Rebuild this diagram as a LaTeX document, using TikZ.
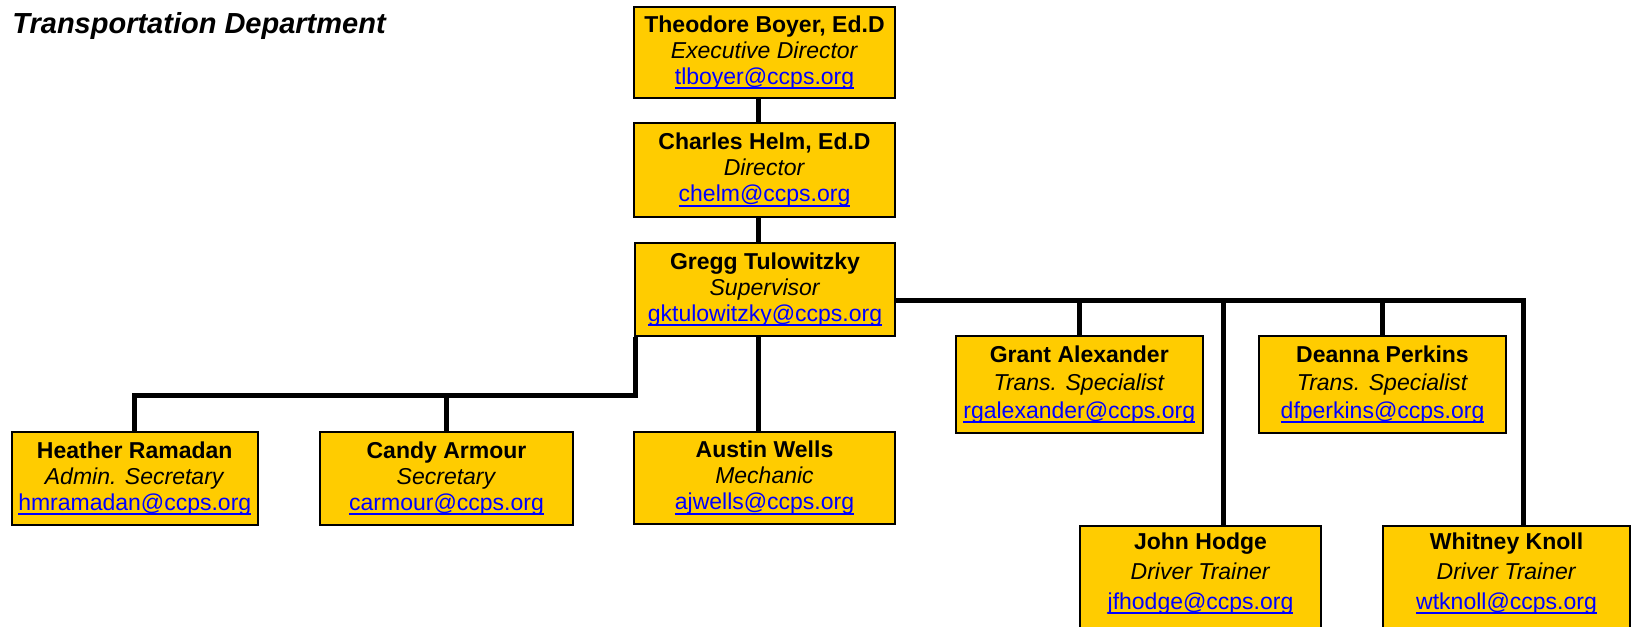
\documentclass[tikz,border=0pt]{standalone}
\usepackage{fontspec}
\setmainfont{Liberation Sans}
\usetikzlibrary{calc}
\definecolor{boxyellow}{RGB}{255,204,0}
\definecolor{mailblue}{RGB}{0,0,255}
\newcommand\mailline[1]{{\color{mailblue}\setbox0\hbox{#1@ccps.org}\rlap{\rule[-0.2em]{\wd0}{0.07em}}\box0}}
\newcommand\staff[3]{\textbf{#1}\\\textit{#2}\\\mailline{#3}}

\begin{document}
\begin{tikzpicture}[x=0.5pt,y=-0.5pt,
	box/.style={draw, line width=1pt, fill=boxyellow, align=center, inner sep=1pt,
		font=\fontsize{11.5}{13}\selectfont},
	midbox/.style={box, font=\fontsize{11.5}{14}\selectfont},
	lowbox/.style={box, anchor=north, inner ysep=3.25pt, text depth=60pt,
		font=\fontsize{11.5}{15}\selectfont},
	wire/.style={line width=2.5pt}]
		\useasboundingbox (0,0) rectangle (1636,626);
		\clip (0,0) rectangle (1636,626);
		\node[anchor=base west, inner sep=0, font=\fontsize{14.5}{17}\selectfont\bfseries\itshape] (title) at (12,34) {Transportation Department};
		% top of the chain
		\node[box, minimum width=130.5pt, minimum height=45.5pt] (theo) at (764.5,52.5) {\staff{Theodore Boyer, Ed.D}{Executive Director}{tlboyer}};
		\node[box, minimum width=130.5pt, minimum height=47pt] (helm) at (764.5,170) {\staff{Charles Helm, Ed.D}{Director}{chelm}};
		\node[box, minimum width=130pt, minimum height=46.5pt] (greg) at (765,289.5) {\staff{Gregg Tulowitzky}{Supervisor}{gktulowitzky}};
		% staff
		\node[box, minimum width=123.25pt, minimum height=46.5pt] (heather) at (134.75,478.5) {\staff{Heather Ramadan}{Admin. Secretary}{hmramadan}};
		\node[box, minimum width=126.5pt, minimum height=46.5pt] (candy) at (446.5,478.5) {\staff{Candy Armour}{Secretary}{carmour}};
		\node[box, minimum width=130.5pt, minimum height=46pt] (austin) at (764.5,478) {\staff{Austin Wells}{Mechanic}{ajwells}};
		\node[midbox, minimum width=123.75pt, minimum height=48.5pt] (grant) at (1079.25,384.5) {\staff{Grant Alexander}{Trans. Specialist}{rgalexander}};
		\node[midbox, minimum width=123.5pt, minimum height=48.5pt] (deanna) at (1382.5,384.5) {\staff{Deanna Perkins}{Trans. Specialist}{dfperkins}};
		\node[lowbox, minimum width=120.5pt] (john) at (1200.5,525) {\staff{John Hodge}{Driver Trainer}{jfhodge}};
		\node[lowbox, minimum width=123.5pt] (whitney) at (1506.5,525) {\staff{Whitney Knoll}{Driver Trainer}{wtknoll}};
		% connectors
		\coordinate (spine) at (758,0);
		\coordinate (lbus) at (635,395);
		\coordinate (rbus) at (1523,300);
		\coordinate (jdrop) at (1223,300);
		\draw[wire] (theo.south -| spine) -- (helm.north -| spine);
		\draw[wire] (helm.south -| spine) -- (greg.north -| spine);
		\draw[wire] (greg.south -| spine) -- (austin.north -| spine);
		\draw[wire] (greg.south -| lbus) -- (lbus) -| (heather.north);
		\draw[wire] (candy.north |- lbus) -- (candy.north);
		\draw[wire] (greg.east |- rbus) -- (rbus) -- (whitney.north -| rbus);
		\draw[wire] (grant.north |- rbus) -- (grant.north);
		\draw[wire] (deanna.north |- rbus) -- (deanna.north);
		\draw[wire] (jdrop) -- (john.north -| jdrop);
	\end{tikzpicture}
\end{document}
